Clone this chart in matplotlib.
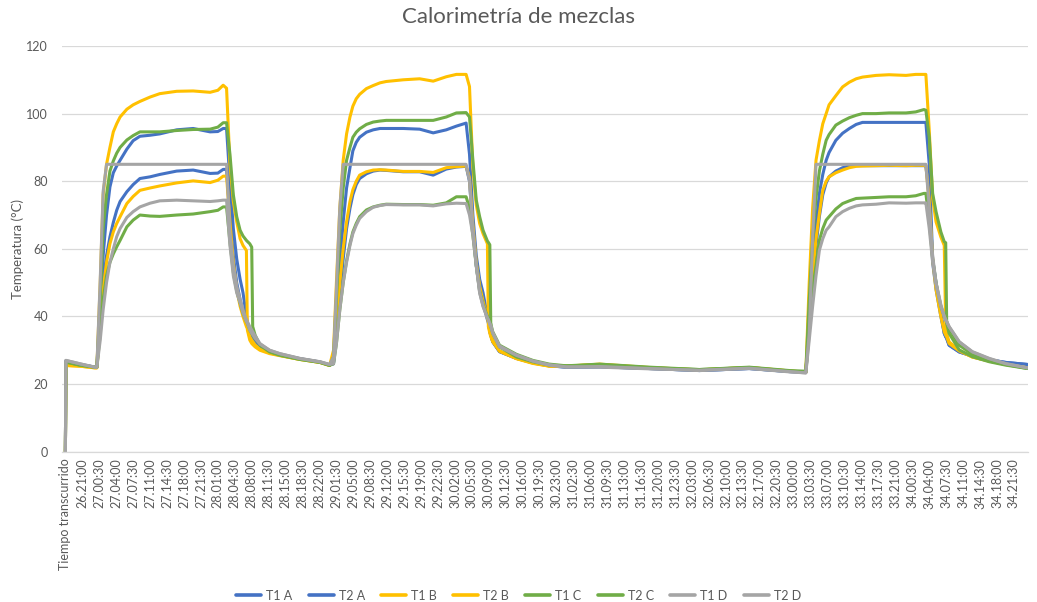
import matplotlib
matplotlib.use("Agg")
import matplotlib.pyplot as plt

plt.rcParams["font.family"] = ["Lato", "DejaVu Sans"]

# Etiquetas del eje X, una cada 3 h 30 min
etiquetas = [
    "Tiempo transcurrido", "26.21:00",
    "27.00:30", "27.04:00", "27.07:30", "27.11:00", "27.14:30", "27.18:00", "27.21:30",
    "28.01:00", "28.04:30", "28.08:00", "28.11:30", "28.15:00", "28.18:30", "28.22:00",
    "29.01:30", "29.05:00", "29.08:30", "29.12:00", "29.15:30", "29.19:00", "29.22:30",
    "30.02:00", "30.05:30", "30.09:00", "30.12:30", "30.16:00", "30.19:30", "30.23:00",
    "31.02:30", "31.06:00", "31.09:30", "31.13:00", "31.16:30", "31.20:00", "31.23:30",
    "32.03:00", "32.06:30", "32.10:00", "32.13:30", "32.17:00", "32.20:30",
    "33.00:00", "33.03:30", "33.07:00", "33.10:30", "33.14:00", "33.17:30", "33.21:00",
    "34.00:30", "34.04:00", "34.07:30", "34.11:00", "34.14:30", "34.18:00", "34.21:30",
]

# Tiempo (h) desde el inicio del registro
horas = [
    0, 0.1, 3.0, 6.1, 6.5, 7.2, 7.8, 8.5, 9.2, 9.9, 10.6, 11.3, 12.7, 14.0, 15.4, 17.5, 19.5, 23.0, 26.4, 29.9, 31.5, 32.6,
    33.3, 34.0, 34.7, 35.4, 36.1, 36.7, 37.4, 37.6, 38.1, 38.5, 38.7, 39.2, 40.2, 42.2, 44.3, 48.4, 52.6, 54.6,
    55.4, 56.0, 56.7, 57.4, 58.1, 58.8, 59.4, 60.1, 60.8, 62.2, 63.6, 65.0, 66.3, 69.8, 73.2, 76.0, 78.7, 80.8, 82.8,
    83.5, 84.2, 84.9, 85.6, 86.3, 87.2, 87.4, 87.7, 87.9, 88.3, 89.7, 93.2, 96.6, 100.0, 103.5,
    110.4, 120.7, 131.0, 141.3, 149.6,
    153.0, 153.7, 154.4, 155.1, 155.8, 156.5, 157.2, 157.8, 159.2, 160.6, 162.0, 163.4, 164.7, 167.5, 170.2, 173.7, 175.7, 177.4,
    177.8, 178.5, 179.2, 179.9, 180.9, 181.6, 181.9, 182.1, 182.6, 184.7, 187.4, 190.9, 194.3, 198.8,
]

# Temperaturas (°C) de cada termopar
t1_a = [
    0, 26.8, 25.8, 25, 25, 42, 58, 70, 78.3, 82.5, 84.5, 86.2, 89.5, 92, 93.3, 93.6, 94, 95.2, 95.6, 94.6, 94.7, 95.6,
    95.6, 80, 66, 57, 51, 47, 40, 38.5, 34, 33, 32.6, 31.8, 30.6, 29.4, 28.7, 27.5, 26.5, 25.6,
    26.5, 38, 55, 68, 78, 84, 89, 91.5, 93, 94.5, 95.2, 95.6, 95.6, 95.6, 95.4, 94.3, 95.2, 96.3, 97.2,
    88, 70, 58, 51, 47, 40, 39, 35.5, 34.5, 32.5, 29.6, 27.6, 26.3, 25.4, 25.0,
    25.1, 24.6, 24.0, 24.6, 23.7,
    23.5, 40, 56, 67, 76.4, 82, 86.2, 88.5, 92.1, 94.2, 95.6, 96.8, 97.4, 97.4, 97.4, 97.4, 97.4, 97.4,
    97.4, 85, 57, 50, 41, 35, 34, 33.5, 31.5, 29.5, 28.3, 27.2, 26.4, 25.8,
]
t2_a = [
    0, 26.8, 25.8, 25, 25, 38, 50, 58, 63.5, 67.8, 71.4, 74, 76.9, 79, 80.8, 81.3, 82, 83, 83.3, 82.3, 82.4, 83.5,
    83.5, 70, 58, 50, 45, 41.5, 38, 37.5, 35, 34, 33.5, 32.5, 31, 29.6, 28.8, 27.5, 26.5, 25.6,
    26, 35, 47, 57, 66, 72, 76, 79, 80.8, 82.2, 83, 83.3, 83.2, 82.8, 82.8, 81.8, 83.6, 84.2, 84.4,
    80, 66, 55, 48, 44, 39, 38, 35.5, 34.5, 32.5, 29.6, 27.6, 26.3, 25.4, 25.0,
    25.1, 24.6, 24.0, 24.6, 23.7,
    23.5, 37, 50, 61, 69.6, 76, 79.5, 81.3, 83, 84, 84.5, 84.6, 84.6, 84.6, 84.6, 84.6, 84.6, 84.6,
    84.6, 76, 56, 48, 40, 35, 34, 33.5, 31.5, 29.5, 28.3, 27.2, 26.4, 25.8,
]
t1_b = [
    0, 25.5, 25.3, 24.8, 24.8, 50, 76, 85, 90, 94.6, 97, 99, 101.3, 102.6, 103.6, 104.9, 105.9, 106.6, 106.7, 106.3, 106.9, 108.4,
    107.5, 85, 74, 68, 63, 61, 59.5, 36, 33, 32, 31.7, 31, 30, 29, 28.4, 27.3, 26.4, 25.5,
    30, 50, 72, 86.2, 94, 99, 102.2, 104.4, 105.7, 107.4, 108.3, 109.1, 109.5, 110, 110.3, 109.6, 110.9, 111.6, 111.6,
    108, 84, 73, 67.5, 64.5, 61.5, 37, 35, 34, 32.5, 29.8, 27.6, 26.2, 25.3, 25.3,
    25.8, 24.8, 24.2, 24.9, 23.9,
    23.5, 50, 72, 86.2, 92, 97, 100, 102.6, 105.3, 107.9, 109.3, 110.3, 110.8, 111.3, 111.5, 111.3, 111.6, 111.6,
    111.6, 95, 75, 68, 63.5, 61, 37, 35, 32.5, 30, 28, 26.8, 25.8, 24.8,
]
t2_b = [
    0, 25.5, 25.3, 24.8, 24.8, 37, 48, 56, 61.5, 65, 67.5, 69.5, 73.4, 75.5, 77.3, 78, 78.6, 79.5, 80.1, 79.6, 80.3, 81.5,
    81.5, 68, 56, 48, 43, 40, 37, 36.5, 34, 33, 32.6, 31.6, 30.3, 29.2, 28.5, 27.3, 26.4, 25.5,
    27, 37, 50, 60, 68, 74, 77.5, 80, 81.8, 82.8, 83.3, 83.4, 83.3, 82.9, 82.9, 82.6, 84, 84.3, 84.5,
    81, 67, 56, 49, 44.5, 39.5, 38.5, 36, 35, 33, 29.7, 27.5, 26.1, 25.3, 25.3,
    25.9, 24.9, 24.2, 24.9, 23.9,
    23.5, 38, 52, 63, 70.5, 77.3, 80, 81.3, 82.5, 83.3, 84, 84.4, 84.5, 84.6, 84.7, 84.6, 84.7, 84.7,
    84.7, 74, 57, 48, 40, 35.5, 34.5, 34, 32, 29.8, 28, 26.8, 25.8, 24.8,
]
t1_c = [
    0, 26.5, 25.6, 25, 25, 45, 66, 76, 83, 86, 88.3, 90, 92.2, 93.5, 94.6, 94.6, 94.6, 95, 95.3, 95.4, 96, 97.3,
    97.3, 88, 76, 69.5, 65.5, 63.8, 62.5, 62.2, 61.5, 60.5, 37, 34.5, 31.5, 29.5, 28.5, 27.3, 26.4, 25.5,
    28, 45, 65, 78, 86.2, 90, 93, 94.5, 95.5, 96.8, 97.5, 97.8, 98, 98, 98, 98, 99, 100.2, 100.3,
    99, 86.2, 74.4, 69.5, 65.5, 62.3, 61.9, 61.2, 37, 35, 31, 28, 26.6, 25.6, 25.4,
    25.9, 25.0, 24.3, 25.0, 24.0,
    23.8, 45, 63, 75, 83, 88, 92.1, 93.8, 96.6, 97.8, 98.8, 99.5, 100, 100, 100.2, 100.2, 100.5, 101.2,
    101, 93, 76.4, 71, 65, 62.1, 61.8, 38, 35, 30.1, 28.1, 26.6, 25.6, 24.6,
]
t2_c = [
    0, 26.5, 25.6, 25, 25, 35, 45, 52, 56, 58.5, 60.6, 62.5, 66.5, 68.5, 70, 69.7, 69.6, 70, 70.3, 71, 71.4, 72.4,
    72.4, 62, 53, 47.5, 44, 41, 38.5, 38, 36, 35, 34.6, 33.5, 31.7, 29.8, 28.8, 27.4, 26.5, 25.6,
    26, 32, 42, 50, 56.5, 61.5, 65, 67.5, 69.5, 71.5, 72.4, 72.9, 73.2, 73.1, 73.1, 72.9, 73.6, 75.4, 75.4,
    72, 64, 55, 47.5, 43.5, 40, 39.5, 38.3, 37.8, 35.5, 31.5, 28.8, 27, 25.9, 25.4,
    25.6, 24.8, 24.3, 24.9, 23.8,
    23.5, 37, 48, 55, 62.6, 66, 68.5, 69.5, 71.8, 73.4, 74.2, 74.9, 75, 75.2, 75.4, 75.4, 75.7, 76.4,
    76.4, 68, 57, 50, 43, 40, 39, 38.5, 36.5, 31.5, 28.8, 27, 25.8, 24.6,
]
t1_d = [
    0, 27, 26, 25, 25, 33, 42, 50, 56, 60, 63.6, 66, 69.3, 71, 72.4, 73.5, 74.2, 74.4, 74.2, 74, 74.2, 74.4,
    74.4, 61, 52, 47, 44, 41, 38.5, 38, 36, 35, 34.6, 33.5, 31.8, 30, 29, 27.6, 26.6, 25.8,
    26, 32, 42, 50, 56, 61, 64.5, 67, 69, 71, 72.3, 72.8, 73.1, 73, 73, 72.7, 73.3, 73.5, 73.4,
    70, 64, 55, 47, 43, 39.5, 39, 38, 37.5, 35.3, 31.3, 28.6, 26.8, 25.7, 25.1,
    25.0, 24.5, 24.1, 24.7, 23.7,
    23.3, 33, 43, 52, 59.6, 63, 65.5, 66.5, 69.5, 71, 72, 72.7, 73, 73.2, 73.6, 73.5, 73.6, 73.6,
    73.6, 66, 56, 49.5, 43, 40, 39, 38.5, 37, 32.5, 29.6, 27.6, 26.1, 24.8,
]
t2_d = [
    0, 27, 26, 25, 25, 51, 77, 85, 85, 85, 85, 85, 85, 85, 85, 85, 85, 85, 85, 85, 85, 85,
    85, 65, 55, 49, 45, 42, 39, 38.5, 37, 36, 35.5, 34.3, 32, 30, 29, 27.6, 26.6, 25.8,
    28, 48, 72, 85, 85, 85, 85, 85, 85, 85, 85, 85, 85, 85, 85, 85, 85, 85, 85,
    80, 66, 55, 47, 43, 39.5, 39, 37.5, 37, 35, 31, 28.5, 26.8, 25.6, 25,
    25.2, 24.6, 24.0, 24.6, 23.6,
    23.3, 35, 63, 85, 85, 85, 85, 85, 85, 85, 85, 85, 85, 85, 85, 85, 85, 85,
    85, 72, 58, 50, 43.5, 40, 39, 38.5, 37, 32.5, 29.5, 27.5, 26, 24.8,
]

azul = "#4472C4"
amarillo = "#FFC000"
verde = "#70AD47"
gris = "#A5A5A5"
texto = "#595959"

series = [
    ("T1 A", t1_a, azul), ("T2 A", t2_a, azul),
    ("T1 B", t1_b, amarillo), ("T2 B", t2_b, amarillo),
    ("T1 C", t1_c, verde), ("T2 C", t2_c, verde),
    ("T1 D", t1_d, gris), ("T2 D", t2_d, gris),
]

fig = plt.figure(figsize=(10.37, 6.02), dpi=100)
ax = fig.add_axes([0.0598, 0.2497, 0.9315, 0.6739])

for nombre, valores, color in series:
    ax.plot(horas, valores, color=color, lw=2.2, label=nombre,
            solid_joinstyle="round", solid_capstyle="round")

ax.set_xlim(-0.7, 198.9)
ax.set_ylim(0, 120)
ax.set_yticks(range(0, 121, 20))
ax.set_xticks([3.5 * i for i in range(len(etiquetas))])
ax.set_xticklabels(etiquetas, rotation=90, fontsize=9, color=texto)
ax.tick_params(axis="y", labelsize=9, colors=texto, length=0, pad=10)
ax.tick_params(axis="x", length=0, pad=5)

ax.grid(axis="y", color="#D9D9D9", lw=0.9)
ax.set_axisbelow(True)
for lado in ["top", "right", "left"]:
    ax.spines[lado].set_visible(False)
ax.spines["bottom"].set_color("#D9D9D9")
ax.spines["bottom"].set_linewidth(0.9)

ax.set_ylabel("Temperatura (°C)", fontsize=9.5, color=texto, labelpad=2)
fig.suptitle("Calorimetría de mezclas", fontsize=16, color=texto, y=0.988)

leyenda = fig.legend(loc="lower center", ncol=8, frameon=False, fontsize=9,
                     bbox_to_anchor=(0.5, -0.018), handlelength=2.0,
                     handletextpad=0.4, columnspacing=1.3, labelcolor=texto)
for linea in leyenda.get_lines():
    linea.set_linewidth(2.6)

fig.savefig("out.png", dpi=100)
